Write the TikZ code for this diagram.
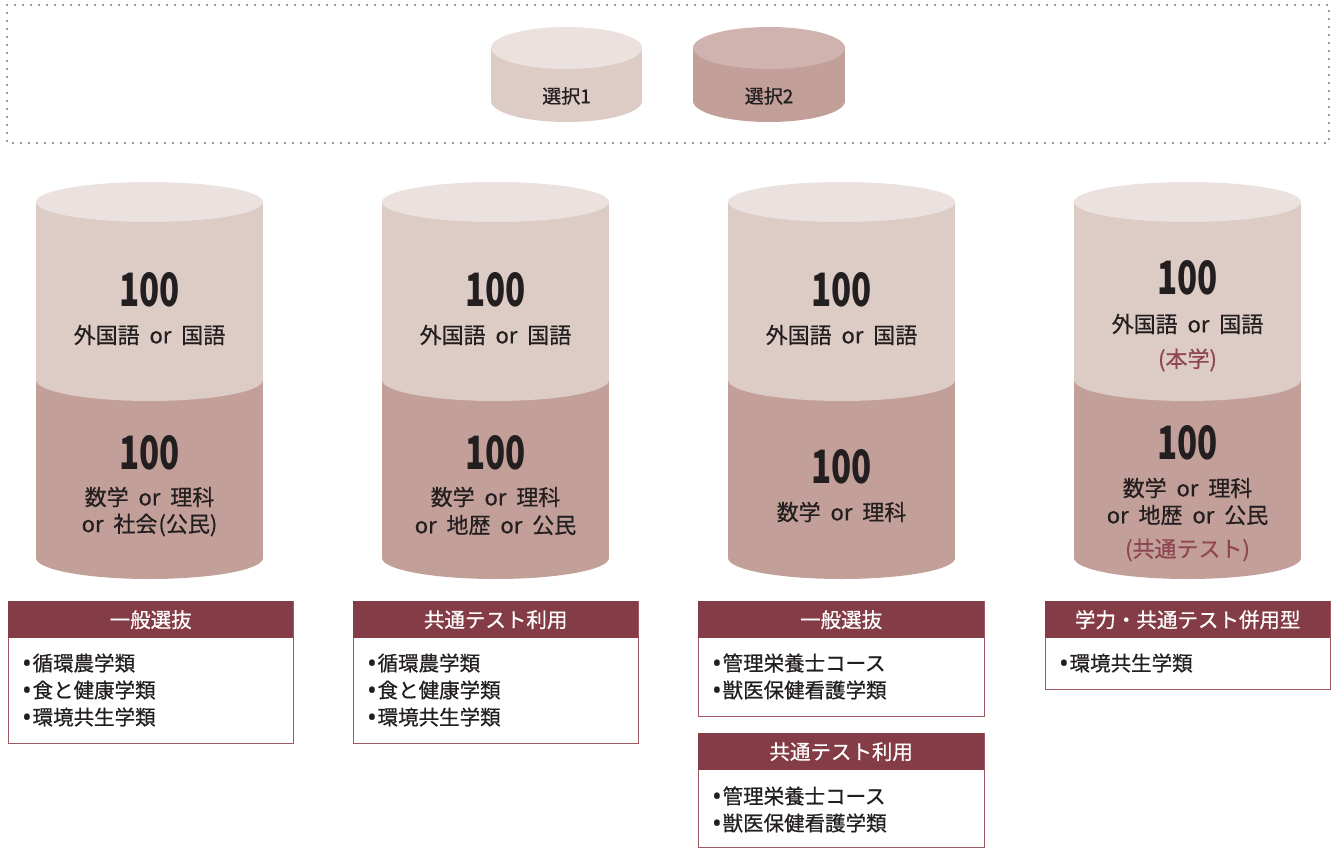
\documentclass[tikz,border=0pt]{standalone}
\usepackage{fontspec}
\usepackage{graphicx}
\setmainfont{Noto Sans CJK JP}
\newfontfamily\medfont{Noto Sans CJK JP}[FakeBold=0.6]
\newfontfamily\latinfont{Noto Sans}[FakeBold=0.6]
\definecolor{topc}{HTML}{EBE1DF}
\definecolor{upc}{HTML}{DDCBC5}
\definecolor{lowc}{HTML}{C39F99}
\definecolor{top2c}{HTML}{D0B3AE}
\definecolor{maroon}{HTML}{843C47}
\definecolor{boxline}{HTML}{9E5962}
\definecolor{notec}{HTML}{8E4650}
\definecolor{txt}{HTML}{231F20}
\definecolor{dotc}{HTML}{7A7A7A}
\newcommand\hnum{\scalebox{0.72}[1]{100}}
\newcommand\bul{\raisebox{-1pt}{\latinfont\fontsize{25}{25}\selectfont •}\hspace{1pt}}
\newcommand\wsp{\hspace{0.45em}}
\begin{document}
\begin{tikzpicture}[x=1pt,y=-1pt,
  num/.style={font=\fontsize{46}{46}\selectfont\bfseries, text=txt, inner sep=0pt},
  sub/.style={font=\medfont\fontsize{22}{28}\selectfont, text=txt, inner sep=0pt, align=center},
  note/.style={sub, text=notec},
  leg/.style={font=\medfont\fontsize{19}{19}\selectfont, text=txt, inner sep=0pt},
  item/.style={font=\medfont\fontsize{20.5}{27}\selectfont, anchor=west, inner sep=0pt, text=txt},
  hdr/.style={fill=maroon, text=white, font=\medfont\fontsize{20.5}{20.5}\selectfont, inner sep=0pt, minimum height=37pt, anchor=north west},
  bodybox/.style={draw=boxline, line width=1.1pt, fill=white, inner sep=0pt, anchor=north west},
  dotframe/.style={draw=dotc, line width=2.2pt, line cap=round, dash pattern=on 0pt off 8pt}
]
\useasboundingbox (0,0) rectangle (1335,848);

% legend frame
\draw[dotframe] (7,5) rectangle (1329,143);

% legend cylinders
\fill[upc] (491,48) rectangle (642,101);
\fill[upc] (566.5,101) ellipse [x radius=75.5, y radius=21];
\fill[topc] (566.5,48) ellipse [x radius=75.5, y radius=21];
\node[leg] (l1) at (566.5,96) {選択1};
\fill[lowc] (693,48) rectangle (845,101);
\fill[lowc] (769,101) ellipse [x radius=76, y radius=21];
\fill[top2c] (769,48) ellipse [x radius=76, y radius=21];
\node[leg] (l2) at (769,96) {選択2};

% main cylinders
\foreach \cx in {149.5,495.5,841.5,1187.5}{
  \fill[lowc] (\cx-113.5,380) rectangle (\cx+113.5,558);
  \fill[lowc] (\cx,558) ellipse [x radius=113.5, y radius=21];
  \fill[upc] (\cx-113.5,202) rectangle (\cx+113.5,380);
  \fill[upc] (\cx,380) ellipse [x radius=113.5, y radius=21];
  \fill[topc] (\cx,202) ellipse [x radius=113.5, y radius=20];
}

% cylinder A
\node[num] (a1) at (149.5,290) {\hnum};
\node[sub] (a2) at (149.5,335) {外国語\wsp or\wsp 国語};
\node[num] (a3) at (149.5,453) {\hnum};
\node[sub] (a4) at (149.5,497) {数学\wsp or\wsp 理科};
\node[sub] (a5) at (149.5,525) {or\wsp 社会\hspace{1pt}(公民)};
% cylinder B
\node[num] (b1) at (495.5,290) {\hnum};
\node[sub] (b2) at (495.5,335) {外国語\wsp or\wsp 国語};
\node[num] (b3) at (495.5,453) {\hnum};
\node[sub] (b4) at (495.5,497) {数学\wsp or\wsp 理科};
\node[sub] (b5) at (495.5,525) {or\wsp 地歴\wsp or\wsp 公民};
% cylinder C
\node[num] (c1) at (841.5,290) {\hnum};
\node[sub] (c2) at (841.5,335) {外国語\wsp or\wsp 国語};
\node[num] (c3) at (841.5,467) {\hnum};
\node[sub] (c4) at (841.5,512) {数学\wsp or\wsp 理科};
% cylinder D
\node[num] (d1) at (1187.5,278) {\hnum};
\node[sub] (d2) at (1187.5,324) {外国語\wsp or\wsp 国語};
\node[note] (d3) at (1187.5,360) {(本学)};
\node[num] (d4) at (1187.5,443) {\hnum};
\node[sub] (d5) at (1187.5,488) {数学\wsp or\wsp 理科};
\node[sub] (d6) at (1187.5,515) {or\wsp 地歴\wsp or\wsp 公民};
\node[note] (d7) at (1187.5,550) {(共通テスト)};

% box A
\node[bodybox, minimum width=285pt, minimum height=142pt] (bA) at (8,601) {};
\node[hdr, minimum width=285pt] (hA) at (8,601) {一般選抜};
\node[item] (iA1) at (22,663) {\bul 循環農学類};
\node[item] (iA2) at (22,690) {\bul 食と健康学類};
\node[item] (iA3) at (22,717) {\bul 環境共生学類};
% box B
\node[bodybox, minimum width=285pt, minimum height=142pt] (bB) at (353,601) {};
\node[hdr, minimum width=285pt] (hB) at (353,601) {共通テスト利用};
\node[item] (iB1) at (367,663) {\bul 循環農学類};
\node[item] (iB2) at (367,690) {\bul 食と健康学類};
\node[item] (iB3) at (367,717) {\bul 環境共生学類};
% box C1
\node[bodybox, minimum width=286pt, minimum height=115pt] (bC) at (698,601) {};
\node[hdr, minimum width=286pt] (hC) at (698,601) {一般選抜};
\node[item] (iC1) at (712,663) {\bul 管理栄養士コース};
\node[item] (iC2) at (712,690) {\bul 獣医保健看護学類};
% box C2
\node[bodybox, minimum width=286pt, minimum height=114pt] (bE) at (698,733) {};
\node[hdr, minimum width=286pt] (hE) at (698,733) {共通テスト利用};
\node[item] (iE1) at (712,796) {\bul 管理栄養士コース};
\node[item] (iE2) at (712,823) {\bul 獣医保健看護学類};
% box D
\node[bodybox, minimum width=285pt, minimum height=88pt] (bD) at (1045,601) {};
\node[hdr, minimum width=285pt] (hD) at (1045,601) {学力・共通テスト併用型};
\node[item] (iD1) at (1059,663) {\bul 環境共生学類};
\end{tikzpicture}
\end{document}
